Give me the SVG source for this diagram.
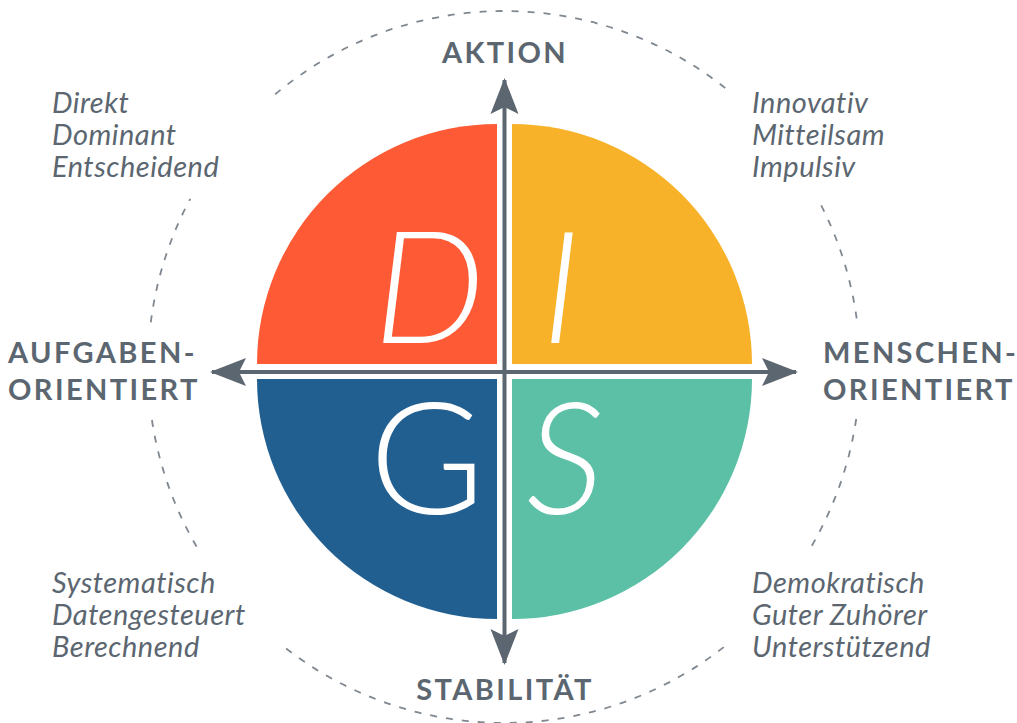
<svg xmlns="http://www.w3.org/2000/svg" width="1017" height="723" viewBox="0 0 1017 723">
  <style>
    .axis { font-family: Lato, "Liberation Sans", sans-serif; font-weight: 700; font-size: 29px; fill: #5b6670; letter-spacing: 2.4px; }
    .trait { font-family: Lato, "Liberation Sans", sans-serif; font-style: italic; font-size: 29px; fill: #5b6670; letter-spacing: 0.5px; }
    .big { font-family: Lato, "Liberation Sans", sans-serif; font-weight: 300; font-size: 157px; fill: #ffffff; text-anchor: middle; }
    .dash { fill: none; stroke: #7f8890; stroke-width: 1.8; stroke-dasharray: 7 9; }
    .shaft { fill: none; stroke: #5b6670; stroke-width: 4; }
  </style>
  <defs>
    <marker id="ah" markerUnits="userSpaceOnUse" markerWidth="36" markerHeight="30" viewBox="0 0 36 30" refX="34" refY="15" orient="auto-start-reverse">
      <path d="M0,1 L36,15 L0,29 L7,15 Z" fill="#5b6670"/>
    </marker>
  </defs>
  <rect width="1017" height="723" fill="#ffffff"/>

  <g id="ring">
    <path class="dash" d="M275.2,94.3 A356,356 0 0 1 728,90.3"/>
    <path class="dash" d="M821.2,205.4 A356,356 0 0 1 857.1,321.8"/>
    <path class="dash" d="M856.2,419 A356,356 0 0 1 810.1,548.7"/>
    <path class="dash" d="M723.7,647.1 A356,356 0 0 1 281.4,644.8"/>
    <path class="dash" d="M196.6,546.6 A356,356 0 0 1 151.7,418.4"/>
    <path class="dash" d="M150.8,322.4 A356,356 0 0 1 190.3,198.8"/>
  </g>

  <g id="quadrant-D">
    <path d="M497,364 L257,364 A240,240 0 0 1 497,124 Z" fill="#fe5a35"/>
    <text class="big" x="429" y="343" font-style="italic">D</text>
  </g>
  <g id="quadrant-I">
    <path d="M512,364 L512,124 A240,240 0 0 1 752,364 Z" fill="#f8b229"/>
    <text class="big" x="561" y="343" font-style="italic">I</text>
  </g>
  <g id="quadrant-G">
    <path d="M497,379 L497,619 A240,240 0 0 1 257,379 Z" fill="#225f91"/>
    <text class="big" x="427" y="514">G</text>
  </g>
  <g id="quadrant-S">
    <path d="M512,379 L752,379 A240,240 0 0 1 512,619 Z" fill="#5bc0a6"/>
    <text class="big" x="565" y="514" font-style="italic">S</text>
  </g>

  <g id="connectors">
    <line class="shaft" x1="504.5" y1="80" x2="504.5" y2="663" marker-start="url(#ah)" marker-end="url(#ah)"/>
    <line class="shaft" x1="212" y1="372" x2="796" y2="372" marker-start="url(#ah)" marker-end="url(#ah)"/>
  </g>

  <g id="label-aktion"><text class="axis" x="505" y="63" text-anchor="middle">AKTION</text></g>
  <g id="label-stabilitaet"><text class="axis" x="505" y="700" text-anchor="middle">STABILITÄT</text></g>
  <g id="label-aufgaben">
    <text class="axis" x="8" y="363">AUFGABEN-</text>
    <text class="axis" x="8" y="400">ORIENTIERT</text>
  </g>
  <g id="label-menschen">
    <text class="axis" x="823" y="363">MENSCHEN-</text>
    <text class="axis" x="823" y="400">ORIENTIERT</text>
  </g>

  <g id="traits-D">
    <text class="trait" x="52" y="113">Direkt</text>
    <text class="trait" x="52" y="145">Dominant</text>
    <text class="trait" x="52" y="177">Entscheidend</text>
  </g>
  <g id="traits-I">
    <text class="trait" x="752" y="113">Innovativ</text>
    <text class="trait" x="752" y="145">Mitteilsam</text>
    <text class="trait" x="752" y="177">Impulsiv</text>
  </g>
  <g id="traits-G">
    <text class="trait" x="52" y="593">Systematisch</text>
    <text class="trait" x="52" y="625">Datengesteuert</text>
    <text class="trait" x="52" y="657">Berechnend</text>
  </g>
  <g id="traits-S">
    <text class="trait" x="752" y="593">Demokratisch</text>
    <text class="trait" x="752" y="625">Guter Zuhörer</text>
    <text class="trait" x="752" y="657">Unterstützend</text>
  </g>
</svg>
